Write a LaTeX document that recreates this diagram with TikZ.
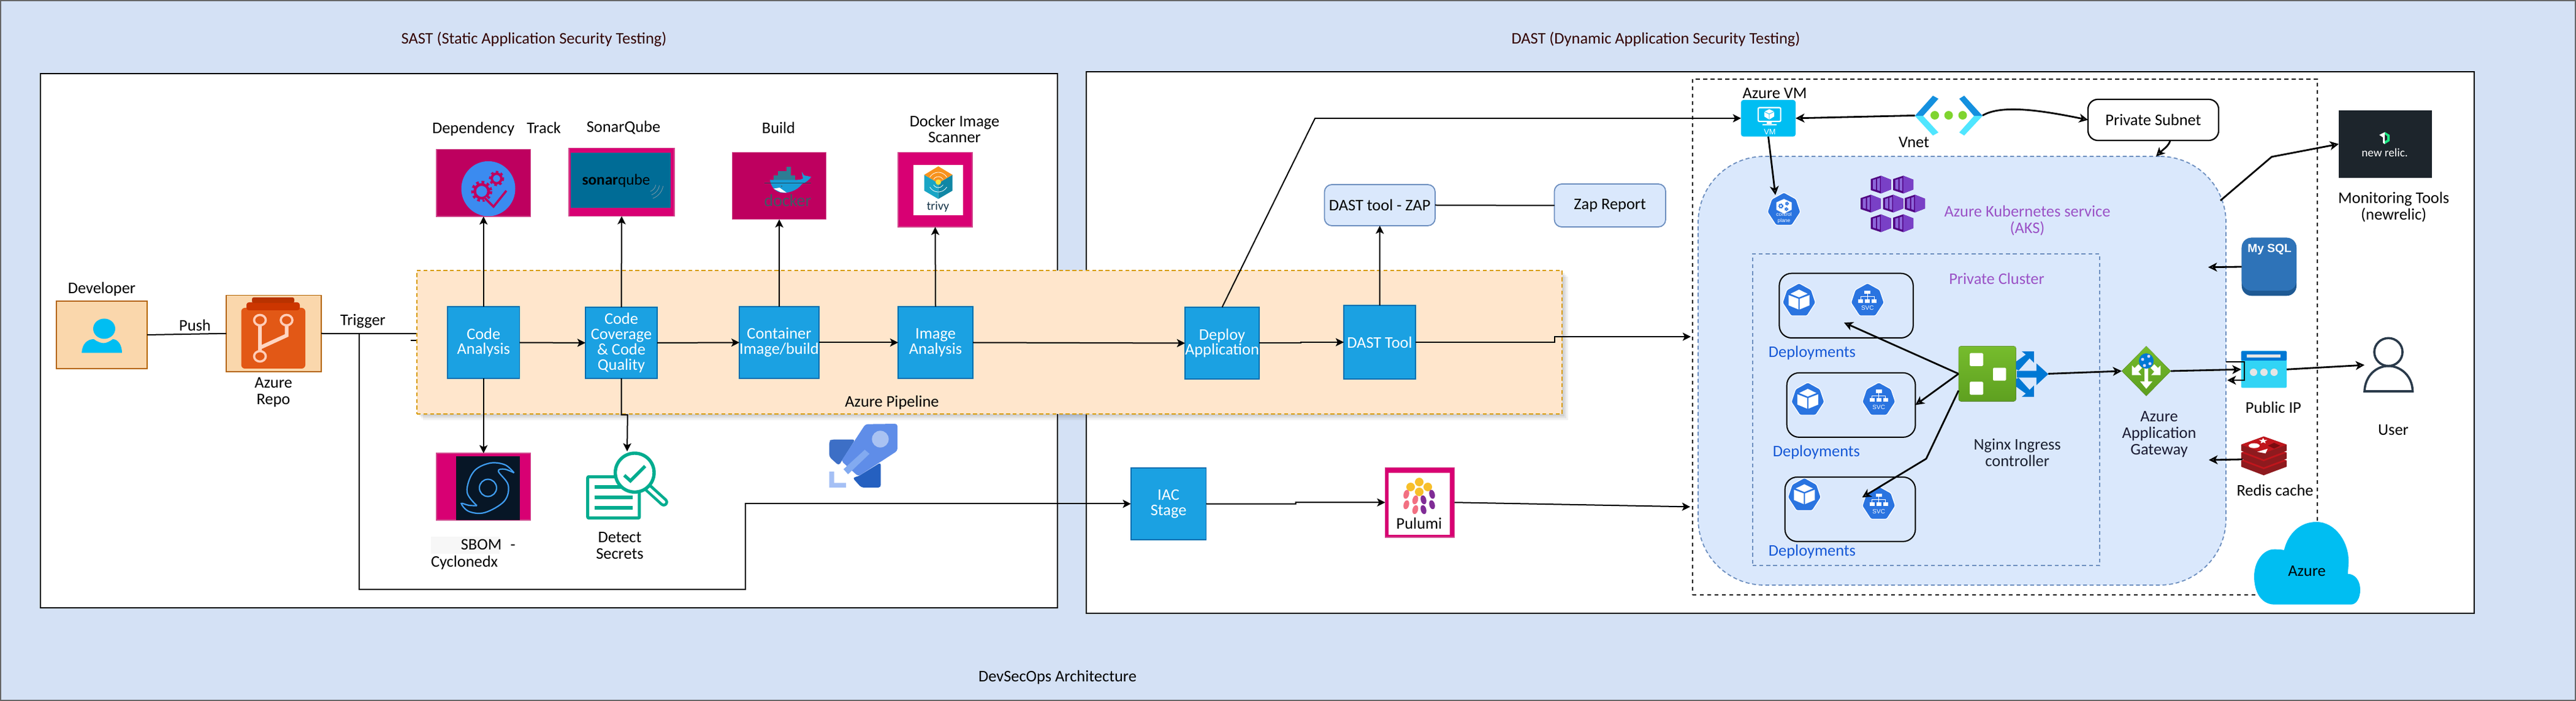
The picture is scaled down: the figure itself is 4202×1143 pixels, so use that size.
\documentclass[tikz,border=0pt]{standalone}
\usepackage{fontspec}
\setmainfont{Carlito}
\newfontfamily\armfont{Liberation Sans}
\usetikzlibrary{arrows.meta,calc}
\definecolor{bgblue}{HTML}{D4E1F5}
\definecolor{pipefill}{HTML}{FFE6CC}
\definecolor{pipeline}{HTML}{D79B00}
\definecolor{stepblue}{HTML}{1BA1E2}
\definecolor{stepedge}{HTML}{006EAF}
\definecolor{magdark}{HTML}{BE005F}
\definecolor{maglight}{HTML}{D80073}
\definecolor{peach}{HTML}{FAD7AC}
\definecolor{peachedge}{HTML}{B46504}
\definecolor{paleblue}{HTML}{DAE8FC}
\definecolor{paleedge}{HTML}{6C8EBF}
\definecolor{cyanicon}{HTML}{00BEF2}
\definecolor{kblue}{HTML}{2A74E0}
\definecolor{titlecol}{HTML}{330000}
\definecolor{purplelab}{HTML}{9B52C6}
\definecolor{deplab}{HTML}{1558D6}
\definecolor{teal}{HTML}{00AC8F}
\newcommand{\lblfont}{\fontsize{6.6pt}{6.2pt}\selectfont}
\newcommand{\boxat}[7]{%
  \pgfmathsetmacro{\bxw}{(#5-#3)*0.25}%
  \pgfmathsetmacro{\bxh}{(#6-#4)*0.25}%
  \pgfmathsetmacro{\bxx}{(#3+#5)/2}%
  \pgfmathsetmacro{\bxy}{(#4+#6)/2}%
  \node[#2,minimum width=\bxw pt,minimum height=\bxh pt,inner sep=0pt,outer sep=0pt,align=center] (#1) at (\bxx,\bxy) {#7};}
\newcommand{\hept}[2]{\fill[kblue,draw=white,line width=.3pt,rounded corners=.6pt,shift={(#1,#2)}] (0,-27)--(20,-16)--(27,5)--(13,26.5)--(-13,26.5)--(-27,5)--(-20,-16)--cycle;}
\newcommand{\podicon}[2]{\hept{#1}{#2}
  \begin{scope}[shift={(#1,#2)}]
  \fill[white] (-17,-7.5)--(-1,-1.4)--(-1,16)--(-17,9.3)--cycle;
  \fill[white] (17,-7.5)--(1,-1.4)--(1,16)--(17,9.3)--cycle;
  \fill[white] (-14,-9.6)--(0,-16.4)--(14,-9.6)--(0,-3.8)--cycle;
  \end{scope}}
\newcommand{\svcicon}[2]{\hept{#1}{#2}
  \begin{scope}[shift={(#1,#2)}]
  \fill[white] (-5,-15) rectangle (5,-9.6);
  \fill[white] (-15,-1) rectangle (-7,5);
  \fill[white] (-4,-1) rectangle (4,5);
  \fill[white] (7,-1) rectangle (15,5);
  \draw[white,line width=.25pt] (0,-9.6)--(0,-1) (-11,-1)--(-11,-5)--(11,-5)--(11,-1);
  \end{scope}}
\newcommand{\akscube}[2]{\begin{scope}[shift={(#1,#2)}]
  \fill[black!30!purple!60!blue] (-16.5,-9)--(0,-14.5)--(16.5,-8)--(16.5,8)--(0,14.5)--(-16.5,9)--cycle;
  \fill[violet!60!blue!75!white] (0,-14.5)--(16.5,-8)--(16.5,8)--(0,14.5)--cycle;
  \fill[violet!50!blue!60!white] (-13,-7.5)--(-8,-9)--(-8,8.5)--(-13,7)--cycle;
  \fill[violet!50!blue!60!white] (-6,-9.5)--(-1.5,-11)--(-1.5,10.5)--(-6,9)--cycle;
  \end{scope}}
\newcommand{\gearat}[5]{\begin{scope}[shift={(#1,#2)}]
  \draw[#4,line width=#5pt,dash pattern=on #5pt off #5pt] (0,0) ellipse [x radius=#3, y radius=#3];
  \draw[#4,line width=#5pt] (0,0) ellipse [x radius=#3*0.75, y radius=#3*0.75];
  \end{scope}}
\tikzset{
  lab/.style={font=\lblfont,align=center,inner sep=0pt,outer sep=0pt,text=black},
  white lab/.style={lab,text=white},
  stepbox/.style={fill=stepblue,draw=stepedge,line width=.4pt,text=white,font=\lblfont},
  toolbox/.style={draw=magdark!70!white,line width=.3pt},
  peachbox/.style={fill=peach,draw=peachedge,line width=.45pt},
  palebox/.style={fill=paleblue,draw=paleedge,line width=.45pt,rounded corners=3pt,font=\lblfont},
  iconbox/.style={},
  deploybox/.style={draw=black,line width=.5pt,rounded corners=5pt},
  conn/.style={draw=black,line width=.5pt},
  arr/.style={conn,-{Stealth[length=3.3pt,width=3.3pt,inset=.8pt]}},
  sk/.style={draw=black,line width=.7pt,-{Stealth[open,length=3.6pt,width=3.6pt,inset=1pt]}},
}
\begin{document}
\begin{tikzpicture}[x=0.25pt,y=-0.25pt]
\useasboundingbox (0,0) rectangle (4202,1143);
% background
\path[fill=bgblue,draw=black!60,line width=.5pt] (1,1) rectangle (4201,1142);
\boxat{sast}{fill=white,draw=black,line width=.5pt}{66}{120}{1725}{991}{}
\boxat{dast}{fill=white,draw=black,line width=.5pt}{1772}{117}{4036}{1000}{}
\node[lab,text=titlecol] (sasttitle) at (871,64) {SAST (Static Application Security Testing)};
\node[lab,text=titlecol] (dasttitle) at (2701,64) {DAST (Dynamic Application Security Testing)};
\node[lab] (archtitle) at (1725,1104.7) {DevSecOps Architecture};

% developer and repo
\boxat{dev}{peachbox}{92}{491}{240}{601}{}
\fill[cyanicon] (170,536) ellipse [x radius=18, y radius=16.5];
\fill[cyanicon] (133.3,575.5) .. controls (134,560) and (143,553) .. (153,553) .. controls (158,557) and (165,559.5) .. (169,559.5) .. controls (174,559.5) and (180,556) .. (184,553) .. controls (192,553) and (199,562) .. (199,575.5) -- cycle;
\boxat{repo}{peachbox}{369}{481.5}{524}{606}{}
\fill[rounded corners=1.5pt,fill={rgb,255:red,226;green,88;blue,22}] (393.5,502) rectangle (498,601);
\fill[fill={rgb,255:red,204;green,54;blue,0},rounded corners=1pt] (402,493) rectangle (489,506);
\fill[fill={rgb,255:red,184;green,50;blue,0},rounded corners=.7pt] (411,485) rectangle (480,494);
\draw[line width=1.5pt,draw={rgb,255:red,255;green,213;blue,194}] (424,530) -- (424,574);
\draw[line width=1.5pt,draw={rgb,255:red,255;green,213;blue,194}] (467.5,530) -- (467.5,547) -- (424,567);
\foreach \cxx/\cyy in {424/522,467.5/522,424/581}
  \draw[line width=.9pt,draw={rgb,255:red,255;green,205;blue,184},fill={rgb,255:red,226;green,88;blue,22}] (\cxx,\cyy) ellipse [x radius=9.5, y radius=8.5];
\node[lab] (devlab) at (166,471) {Developer};
\node[lab] (repolab) at (446,639.5) {Azure\\[.6pt]Repo};
\node[lab] (pushlab) at (318,530) {Push};
\node[lab] (triglab) at (592,523.5) {Trigger};

% connectors that run under the pipeline box
\coordinate (trigend) at (680,544);
\coordinate (trigturn) at (585.5,544);
\coordinate (trigb) at (1216,961);
\coordinate (stubl) at (670,555);
\coordinate (stubr) at (690,555);
\draw[conn] (dev.east) -- (repo.west);
\draw[conn] (repo.east) -- (trigend);
\draw[conn] (stubl) -- (stubr);

% pipeline box
\foreach \ss/\oo in {10/.05,7/.06,4/.07}
  \fill[black,opacity=\oo] (680+\ss,441+\ss) rectangle (2548+\ss,675+\ss);
\boxat{pipe}{fill=pipefill,draw=pipeline,line width=.45pt,dashed,dash pattern=on 1.6pt off 1.1pt}{680}{441}{2548}{675}{}

% tool boxes
\boxat{deptrack}{fill=magdark,toolbox}{712}{243.4}{865.5}{353}{}
\fill[fill={rgb,255:red,59;green,139;blue,240}] (796.5,307.7) ellipse [x radius=44, y radius=44.8];
\gearat{785.7}{312}{15}{magdark}{1.1}
\gearat{810}{291}{10.5}{magdark}{1.0}
\draw[line width=1.5pt,draw={rgb,255:red,59;green,139;blue,240}] (791,323) -- (805,337) -- (826,311);
\draw[magdark,line width=.9pt] (791,323) -- (805,337) -- (826,311);
\boxat{sonar}{fill=maglight,toolbox}{928}{241.5}{1100}{352.5}{}
\fill[fill={rgb,255:red,0;green,108;blue,150}] (930.5,249) rectangle (1094,339);
\node[inner sep=0pt,font=\fontsize{6.3pt}{6.3pt}\selectfont,text=black] (sonartxt) at (1005,295) {\textbf{sonar}qube};
\foreach \rr in {14,20,26}
  \draw[black!10!cyan!30!gray,line width=.2pt] (1056,299) ++(10:\rr) arc (10:70:\rr);
\boxat{build}{fill=magdark,toolbox}{1194.5}{248.3}{1347.7}{357.7}{}
\begin{scope}[shift={(1200,240)},scale=0.3333]
  \fill[fill={rgb,255:red,45;green,125;blue,148}] (185,138) rectangle (292,162);
  \fill[fill={rgb,255:red,45;green,125;blue,148}] (206,117) rectangle (270,140);
  \fill[fill={rgb,255:red,45;green,125;blue,148}] (250,96) rectangle (270,118);
  \fill[fill={rgb,255:red,24;green,156;blue,214}] (168,160) -- (300,160) .. controls (318,160) and (330,155) .. (332,150) -- (368,148) .. controls (350,170) and (335,175) .. (325,180) .. controls (300,215) and (250,228) .. (220,222) .. controls (190,215) and (172,190) .. (168,160) -- cycle;
  \fill[fill={rgb,255:red,24;green,156;blue,214}] (323,120) -- (335,138) -- (370,145) -- (350,157) -- (330,155) -- cycle;
  \fill[white] (185,203) -- (215,198) -- (250,223) -- (220,220) -- cycle;
  \draw[line width=.3pt,draw={rgb,255:red,32;green,70;blue,90}] (140,175) -- (370,175);
  \fill[black!70] (225,191) circle [radius=3];
\end{scope}
\node[inner sep=0pt,font=\fontsize{7pt}{7pt}\selectfont,text={rgb,255:red,62;green,90;blue,102}] (dockertxt) at (1285,327) {docker};
\boxat{trivy}{fill=maglight,toolbox}{1465}{248.6}{1586}{370}{}
\fill[white] (1490,269) rectangle (1571,351);
\fill[fill={rgb,255:red,25;green,165;blue,197}] (1507.7,285) -- (1530.6,298.7) -- (1530.6,324.4) -- (1507.7,311) -- cycle;
\fill[fill={rgb,255:red,17;green,135;blue,165}] (1553.6,285) -- (1530.6,298.7) -- (1530.6,324.4) -- (1553.6,311) -- cycle;
\fill[fill={rgb,255:red,247;green,147;blue,30}] (1530.6,271.2) -- (1553.6,285) -- (1530.6,298.7) -- (1507.7,285) -- cycle;
\foreach \rr in {9,16}
  \draw[white,line width=.2pt] (1530.6,297) ++(-150:\rr) arc (-150:-30:\rr)
        (1530.6,297) ++(150:\rr) arc (150:30:\rr);
\fill[fill={rgb,255:red,250;green,225;blue,60}] (1530.6,297) circle [radius=4.5];
\node[inner sep=0pt,font=\fontsize{5pt}{5pt}\selectfont,text={rgb,255:red,20;green,50;blue,70}] (trivytxt) at (1530,337) {trivy};
\node[lab] (deplab) at (810,210) {Dependency\hspace{3.5pt} Track};
\node[lab] (sonarlab) at (1017,208.5) {SonarQube};
\node[lab] (buildlab) at (1270,208) {Build};
\node[lab] (trivylab) at (1557,210.5) {Docker Image\\[.4pt]Scanner};

% SBOM
\boxat{sbom}{fill=maglight,toolbox}{712}{739}{865.5}{848}{}
\fill[fill={rgb,255:red,7;green,22;blue,38}] (744,744.4) rectangle (847.5,848);
\draw[line width=.55pt,draw={rgb,255:red,63;green,156;blue,240}] (796,795.5) circle [radius=14];
\draw[line width=.55pt,draw={rgb,255:red,63;green,156;blue,240},rounded corners=.3pt] plot[smooth,tension=.6] coordinates {(838.6,771) (822.7,757.5) (797,755.6) (772,770) (762,802) (778,824.5)};
\draw[line width=.55pt,draw={rgb,255:red,63;green,156;blue,240}] plot[smooth,tension=.6] coordinates {(778,824.5) (765,824) (752.5,821) (765,834) (791,835.7) (822.7,817) (829,791) (813,768.6) (823,765) (838.6,771)};
\fill[white!97!black] (703,875) rectangle (814.5,903);
\node[lab,align=left,anchor=west] (sbomlab) at (703,904) {\hspace*{12.2pt}SBOM\hspace{3.6pt}-\\[.6pt]Cyclonedx};

% detect secrets
\boxat{detect}{iconbox}{956}{736}{1090}{847}{}
\begin{scope}[shift={(930,680)},scale=0.3333]
  \draw[teal,line width=1.25pt,fill=white,rounded corners=.5pt] (86,292) rectangle (339,494);
  \foreach \yy in {342,393,444} \fill[teal] (120,\yy-9) rectangle (305,\yy+9);
  \draw[teal,line width=3.6pt,line cap=round] (375,340) -- (458,416);
  \draw[white,line width=1.3pt,line cap=round] (385,350) -- (458,416);
  \draw[teal,line width=1.35pt,fill=white] (316,272) circle [radius=95];
  \draw[teal,line width=1.35pt] (265,285) -- (295,312) -- (367,240);
\end{scope}
\node[lab] (detectlab) at (1011,889.5) {Detect\\[.6pt]Secrets};

% rocket
\boxat{rocket}{iconbox}{1352.7}{691}{1464}{795}{}
\begin{scope}[shift={(1340,680)},scale=0.3333]
  \fill[fill={rgb,255:red,61;green,111;blue,198},rounded corners=1pt] (38,118) -- (48,110) -- (165,110) -- (85,237) -- (38,195) -- cycle;
  \fill[fill={rgb,255:red,37;green,96;blue,192},rounded corners=1pt] (290,222) -- (290,345) -- (195,345) -- (152,297) -- (180,290) -- cycle;
  \fill[fill={rgb,255:red,95;green,141;blue,232},rounded corners=1pt] (215,35) -- (372,33) -- (372,165) -- (180,290) -- (97,215) -- cycle;
  \fill[fill={rgb,255:red,169;green,194;blue,242}] (288,108) circle [radius=41];
  \fill[fill={rgb,255:red,130;green,170;blue,240}] (212,160) -- (235,180) -- (130,280) -- (108,255) -- cycle;
  \fill[fill={rgb,255:red,165;green,192;blue,245}] (38,267) -- (62,267) -- (62,322) -- (120,322) -- (120,345) -- (38,345) -- cycle;
\end{scope}

% DAST left side
\boxat{zap}{palebox}{2160.5}{301}{2341}{368}{DAST tool - ZAP}
\boxat{report}{palebox}{2535.5}{300}{2717}{370}{Zap Report}
\boxat{iac}{stepbox}{1844.7}{763}{1967.5}{880}{IAC\\Stage}
\boxat{pulumi}{fill=maglight,toolbox}{2259.5}{762.5}{2372.5}{876}{}
\fill[white] (2265,771) rectangle (2364.7,871.6);
\foreach \xa/\ya in {2315/786,2301/794,2329/794,2315/802}
  \fill[fill={rgb,255:red,247;green,191;blue,42}] (\xa,\ya) circle [radius=7];
\foreach \xa/\ya in {2294/806,2308.6/815,2294/823,2308.6/831}
  \fill[fill={rgb,255:red,242;green,112;blue,130},rotate around={-15:(\xa,\ya)}] (\xa,\ya) ellipse [x radius=4.5, y radius=7.5];
\foreach \xa/\ya in {2336/806,2322/815,2336/823,2322/831}
  \fill[fill={rgb,255:red,128;green,44;blue,150},rotate around={15:(\xa,\ya)}] (\xa,\ya) ellipse [x radius=4.5, y radius=7.5];
\node[lab] (pulumitxt) at (2315,853) {Pulumi};

% Azure region
\boxat{azure}{draw=black,line width=.45pt,dash pattern=on 1.6pt off 1.4pt}{2760.7}{128.7}{3780}{970}{}
\boxat{aks}{fill=paleblue,draw=paleedge,line width=.45pt,dash pattern=on 1.6pt off 1.1pt,rounded corners=27pt}{2770}{255}{3631}{954}{}
\boxat{cluster}{fill=paleblue,draw=paleedge,line width=.4pt,dash pattern=on 1.6pt off 1.2pt}{2858.7}{414}{3425}{922}{}

% VM
\boxat{vm}{fill=cyanicon,rounded corners=1pt}{2840}{163}{2929}{222.7}{}
\draw[white,line width=.55pt,rounded corners=.5pt] (2868,175.5) rectangle (2904.6,198);
\fill[white] (2882,198) rectangle (2890,202) (2875,202.5) rectangle (2898,204.5);
\fill[white] (2886,178) -- (2894,182) -- (2894,190) -- (2886,195) -- (2878,190) -- (2878,182) -- cycle;
\draw[cyanicon,line width=.2pt] (2878,182) -- (2886,186) -- (2894,182) (2886,186) -- (2886,195);
\node[inner sep=0pt,text=white,font=\armfont\fontsize{3.2pt}{3.2pt}\selectfont] (vmtxt) at (2887,215) {VM};
\node[lab] (vmlab) at (2895,152) {Azure VM};

% Vnet
\boxat{vnet}{iconbox}{3123.5}{155.7}{3234}{221}{}
\fill[fill={rgb,255:red,20;green,144;blue,223}] (3123.5,189) -- (3153,156) -- (3162,161) -- (3137,189) -- cycle;
\fill[fill={rgb,255:red,80;green,230;blue,255}] (3123.5,189) -- (3153,221) -- (3162,216) -- (3137,189) -- cycle;
\fill[fill={rgb,255:red,20;green,144;blue,223}] (3234,189) -- (3204,156) -- (3196,161) -- (3220,189) -- cycle;
\fill[fill={rgb,255:red,80;green,230;blue,255}] (3234,189) -- (3204,221) -- (3196,216) -- (3220,189) -- cycle;
\foreach \xa in {3156,3178.6,3201.5}
  \fill[fill={rgb,255:red,127;green,212;blue,47}] (\xa,188) ellipse [x radius=7, y radius=7];
\node[lab] (vnetlab) at (3122,231.7) {Vnet};
\boxat{subnet}{fill=white,draw=black,line width=.55pt,rounded corners=4pt,font=\lblfont}{3406}{162}{3619}{229}{Private Subnet}

% AKS contents
\boxat{ctrl}{iconbox}{2883}{313.7}{2937}{367.7}{}
\hept{2910}{340.7}
\fill[white] (2910,324.4) -- (2922.5,330) -- (2922.5,342) -- (2910,348.4) -- (2897.5,342) -- (2897.5,330) -- cycle;
\gearat{2905}{336}{3.5}{kblue}{.4}
\gearat{2915}{332}{2.5}{kblue}{.35}
\gearat{2914}{341}{2.5}{kblue}{.35}
\node[inner sep=0pt,align=center,text=white,font=\armfont\fontsize{2.1pt}{2.5pt}\selectfont] (ctrltxt) at (2910,355) {control\\plane};
\akscube{3068}{301}\akscube{3104.6}{301}
\akscube{3051.5}{332}\akscube{3088}{332}\akscube{3123.5}{332}
\akscube{3068}{364}\akscube{3104.6}{364}
\node[lab,text=purplelab] (akslab) at (3307,360) {Azure Kubernetes service\\[.6pt](AKS)};
\node[lab,text=purplelab] (clusterlab) at (3257,454) {Private Cluster};

% deployments
\boxat{dep1}{deploybox}{2902.4}{445.7}{3120.8}{551}{}
\boxat{dep2}{deploybox}{2914.7}{607.9}{3124.4}{712.9}{}
\boxat{dep3}{deploybox}{2911.6}{777.9}{3124.4}{882.9}{}
\podicon{2934.6}{488.6}
\svcicon{3046.3}{488.6}
\node[inner sep=0pt,text=white,font=\armfont\fontsize{2.5pt}{2.5pt}\selectfont] (svc1) at (3046.3,502) {SVC};
\podicon{2948.9}{650.4}
\svcicon{3064.7}{650.4}
\node[inner sep=0pt,text=white,font=\armfont\fontsize{2.5pt}{2.5pt}\selectfont] (svc2) at (3064.7,664) {SVC};
\podicon{2943.3}{806}
\svcicon{3064.7}{820}
\node[inner sep=0pt,text=white,font=\armfont\fontsize{2.5pt}{2.5pt}\selectfont] (svc3) at (3064.7,834) {SVC};
\node[lab,text=deplab] (deplab1) at (2956,575.7) {Deployments};
\node[lab,text=deplab] (deplab2) at (2963,737.5) {Deployments};
\node[lab,text=deplab] (deplab3) at (2956,899) {Deployments};

% ingress
\boxat{ingress}{iconbox}{3194.8}{564.3}{3341.2}{654.6}{}
\fill[top color={rgb,255:red,118;green,188;blue,45},bottom color={rgb,255:red,94;green,160;blue,32},rounded corners=1pt] (3194.8,564.3) rectangle (3288.7,654.6);
\fill[white,rounded corners=.4pt] (3213,575.7) rectangle (3235,596.8) (3251,599.6) rectangle (3272.3,620.7) (3213,622.5) rectangle (3235,643.6);
\fill[fill={rgb,255:red,0;green,120;blue,212}] (3290.2,604.6) -- (3321.8,604.6) -- (3321.8,592.5) -- (3341.2,610) -- (3321.8,627.9) -- (3321.8,615.7) -- (3290.2,615.7) -- cycle;
\fill[fill={rgb,255:red,0;green,120;blue,212}] (3288.7,602.1) -- (3288.7,589.6) -- (3304.5,578.2) -- (3297.9,572.9) -- (3317.8,572.9) -- (3317.8,591.4) -- (3310.6,584.3) -- (3292.8,603.9) -- cycle;
\fill[fill={rgb,255:red,0;green,120;blue,212}] (3288.7,617.9) -- (3288.7,630.4) -- (3304.5,641.8) -- (3297.9,647.1) -- (3317.8,647.1) -- (3317.8,628.6) -- (3310.6,635.7) -- (3292.8,616.1) -- cycle;
\node[lab,text={rgb,255:red,26;green,32;blue,48}] (inglab) at (3290.7,738) {Nginx Ingress\\[.6pt]controller};

% application gateway
\boxat{appgw}{iconbox}{3461}{564.3}{3541}{645.7}{}
\fill[top color={rgb,255:red,118;green,188;blue,45},bottom color={rgb,255:red,92;green,158;blue,31}] (3501,564.3) -- (3541,605) -- (3501,645.7) -- (3461,605) -- cycle;
\fill[white] (3498,598) rectangle (3504,622) (3491,622) -- (3511,622) -- (3501,634) -- cycle;
\fill[white] (3477.7,611.7) -- (3477.7,596) -- (3482,600) -- (3488,594) -- (3494,600) -- (3488,606) -- (3493,611.7) -- cycle;
\fill[white] (3524.3,611.7) -- (3524.3,596) -- (3520,600) -- (3514,594) -- (3508,600) -- (3514,606) -- (3509,611.7) -- cycle;
\fill[fill={rgb,255:red,0;green,120;blue,212}] (3501,588.6) ellipse [x radius=12, y radius=12.5];
\foreach \xa/\ya in {3495/586,3505/581,3507/593,3498/596} \fill[white!85!blue] (\xa,\ya) circle [radius=2.5];
\node[lab,text={rgb,255:red,26;green,26;blue,51}] (gwlab) at (3522,708) {Azure\\[.6pt]Application\\[.6pt]Gateway};

% public ip
\boxat{pubip}{iconbox}{3655.8}{572.3}{3730}{632.3}{}
\fill[fill={rgb,255:red,50;green,212;blue,245},rounded corners=.5pt] (3655.8,572.3) rectangle (3730,632.3);
\fill[fill={rgb,255:red,0;green,120;blue,212},rounded corners=.5pt] (3655.8,572.3) rectangle (3730,588);
\fill[white!90!black] (3665,577.7) rectangle (3720,583.3);
\foreach \xa in {3676,3693,3709.5} \fill[white!90!black] (\xa,607) ellipse [x radius=6, y radius=6];
\node[lab] (iplab) at (3708.4,664) {Public IP};

% redis
\boxat{redis}{iconbox}{3655.8}{711.7}{3730}{775}{}
\foreach \oo in {26,13,0} {
  \fill[fill={rgb,255:red,142;green,26;blue,30}] (3655.8,725+\oo) -- (3692.6,711.7+\oo) -- (3730,725+\oo) -- (3730,735+\oo) -- (3692.6,749+\oo) -- (3655.8,735+\oo) -- cycle;
  \fill[fill={rgb,255:red,192;green,21;blue,28}] (3655.8,725+\oo) -- (3692.6,711.7+\oo) -- (3730,725+\oo) -- (3692.6,739+\oo) -- cycle;
}
\fill[white] (3677,726.7) ellipse [x radius=9, y radius=4];
\fill[white,shift={(3691.6,719)},yscale=.7] (0,-7) -- (1.8,-2.4) -- (6.7,-2.2) -- (2.9,.9) -- (4.1,5.7) -- (0,3) -- (-4.1,5.7) -- (-2.9,.9) -- (-6.7,-2.2) -- (-1.8,-2.4) -- cycle;
\fill[white] (3682,736.7) -- (3699,731.7) -- (3695.6,739.3) -- cycle;
\fill[fill={rgb,255:red,122;green,12;blue,16}] (3699.5,726.7) -- (3709.5,722) -- (3719.5,726.7) -- (3709.5,731.5) -- cycle;
\node[lab] (redislab) at (3711,799) {Redis cache};

% mysql
\boxat{mysql}{fill={rgb,255:red,31;green,90;blue,148},rounded corners=4pt}{3656.7}{387.7}{3746}{482.3}{}
\fill[fill={rgb,255:red,46;green,115;blue,184},rounded corners=4pt] (3656.7,387.7) rectangle (3746,474);
\node[inner sep=0pt,text=white,font=\armfont\bfseries\fontsize{4.8pt}{4.8pt}\selectfont] (mysqltxt) at (3702,406.7) {My SQL};

% user
\boxat{user}{iconbox}{3857}{551}{3935.5}{639.3}{}
\draw[line width=.9pt,draw={rgb,255:red,42;green,58;blue,74}] (3896,574) ellipse [x radius=23, y radius=22.7];
\draw[line width=.9pt,draw={rgb,255:red,42;green,58;blue,74}] (3857,638) -- (3935.5,638) .. controls (3935,612) and (3915,596.7) .. (3896,596.7) .. controls (3877,596.7) and (3858,612) .. (3857,638) -- cycle;
\node[lab] (userlab) at (3904,701) {User};

% new relic
\boxat{newrelic}{fill={rgb,255:red,29;green,37;blue,44}}{3815}{180}{3966.5}{289.7}{}
\fill[fill={rgb,255:red,28;green,231;blue,131}] (3890,215) -- (3898,220) -- (3898,230) -- (3890,235) -- (3890,230) -- (3894,228) -- (3894,222) -- (3890,219) -- cycle;
\fill[white] (3881,220) -- (3890,215.5) -- (3890,235) -- (3887,233) -- (3887,224) -- cycle;
\node[inner sep=0pt,text=white,font=\fontsize{4.8pt}{4.8pt}\selectfont] (nrtxt) at (3890,249) {new relic.};
\node[lab] (nrlab) at (3904.7,338) {Monitoring Tools\\[.6pt](newrelic)};

% cloud
\fill[cyanicon] (3709.5,985.7) .. controls (3688,985) and (3677,965) .. (3677,940) .. controls (3677,915) and (3692,895.7) .. (3709.5,895.7) .. controls (3716,895.7) and (3722,896) .. (3725.8,897) .. controls (3732,870) and (3752,851) .. (3778.5,851) .. controls (3810,851) and (3832,885) .. (3831,916.7) .. controls (3831,925) and (3830,930) .. (3829.7,935.7) .. controls (3842,936) and (3850,947) .. (3850,961.7) .. controls (3850,975) and (3844,985.7) .. (3834.8,985.7) -- cycle;
\node[lab] (cloudlab) at (3763,930.7) {Azure};

% pipeline steps
\boxat{codeA}{stepbox}{730}{500}{847.5}{617}{Code\\Analysis}
\boxat{coverage}{stepbox}{955}{501}{1072}{617}{Code\\Coverage\\\& Code\\Quality}
\boxat{container}{stepbox}{1210}{500}{1332}{617}{Container\\Image/build}
\boxat{image}{stepbox}{1465}{500}{1587}{617}{Image\\Analysis}
\boxat{deploy}{stepbox}{1935}{501}{2052}{618}{Deploy\\Application}
\boxat{dasttool}{stepbox}{2192}{498}{2309}{618}{DAST Tool}
\node[lab] (pipelab) at (1455,656) {Azure Pipeline};

% named free ends and corners
\coordinate (detcorner) at (1023.7,676.5);
\coordinate (deploycorner) at (2145,193);
\coordinate (dd1) at (2122,559.5);
\coordinate (dd2) at (2122,558);
\coordinate (da1) at (2535.5,558);
\coordinate (da2) at (2535.5,549);
\coordinate (da3) at (2758,549);
\coordinate (ip1) at (2113.5,821.7);
\coordinate (ip2) at (2113.5,819);
\coordinate (pa1) at (2757,826.4);
\coordinate (subout) at (3540,229);
\coordinate (aksin) at (3517,255);
\coordinate (ctrlin) at (2896,318);
\coordinate (d1tip) at (3008,526);
\coordinate (ing3) at (3194.8,636.8);
\coordinate (d3mid) at (3142,748);
\coordinate (d3tip) at (3037.6,811);
\coordinate (aa1) at (3631,590);
\coordinate (aa2) at (3661,590);
\coordinate (aa3) at (3661,620);
\coordinate (aa4) at (3633,620);
\coordinate (redisin) at (3603,750);
\coordinate (redisout) at (3658,749);
\coordinate (sqlin) at (3602,435.7);
\coordinate (nr1) at (3622,327);
\coordinate (nr2) at (3705.6,255.7);

% connectors
\draw[arr] (codeA.north) -- (deptrack.south);
\draw[arr] (codeA.south) -- (sbom.north);
\draw[arr] (codeA.east) -- (coverage.west);
\draw[arr] (coverage.north) -- (sonar.south);
\draw[arr] (coverage.east) -- (container.west);
\draw[arr] (coverage.south) |- (detcorner) -- (detect.north);
\draw[arr] (container.north) -- (build.south);
\draw[arr] (container.east) -- (image.west);
\draw[arr] (image.north) -- (trivy.south);
\draw[arr] (image.east) -- (deploy.west);
\draw[arr] (deploy.east) -- (dd1) -- (dd2) -- (dasttool.west);
\draw[arr] (deploy.north) -- (deploycorner) -- (vm.west);
\draw[arr] (dasttool.north) -- (zap.south);
\draw[conn] (zap.east) -- (report.west);
\draw[arr] (dasttool.east) -- (da1) -- (da2) -- (da3);
\draw[arr] (trigturn) |- (trigb) |- (iac.west);
\draw[arr] (iac.east) -- (ip1) -- (ip2) -- (pulumi.west);
\draw[arr] (pulumi.east) -- (pa1);
\draw[sk] (vnet.west) -- (vm.east);
\draw[sk] (vnet.east) .. controls (3265,170) and (3330,180) .. (subnet.west);
\draw[sk] (subout) .. controls (3538,238) and (3528,244) .. (aksin);
\draw[sk] (vm.south) -- (ctrlin);
\draw[sk] (ingress.west) -- (d1tip);
\draw[sk] (ingress.west) -- (dep2.east);
\draw[sk] (ing3) -- (d3mid) -- (d3tip);
\draw[sk] (ingress.east) -- (appgw.west);
\draw[sk] (appgw.east) -- (pubip.west);
\draw[sk] (aa1) -- (aa2) -- (aa3) -- (aa4);
\draw[sk] (pubip.east) -- (user.west);
\draw[sk] (redisout) -- (redisin);
\draw[sk] (mysql.west) -- (sqlin);
\draw[sk] (nr1) -- (nr2) -- (newrelic.west);
\end{tikzpicture}
\end{document}
